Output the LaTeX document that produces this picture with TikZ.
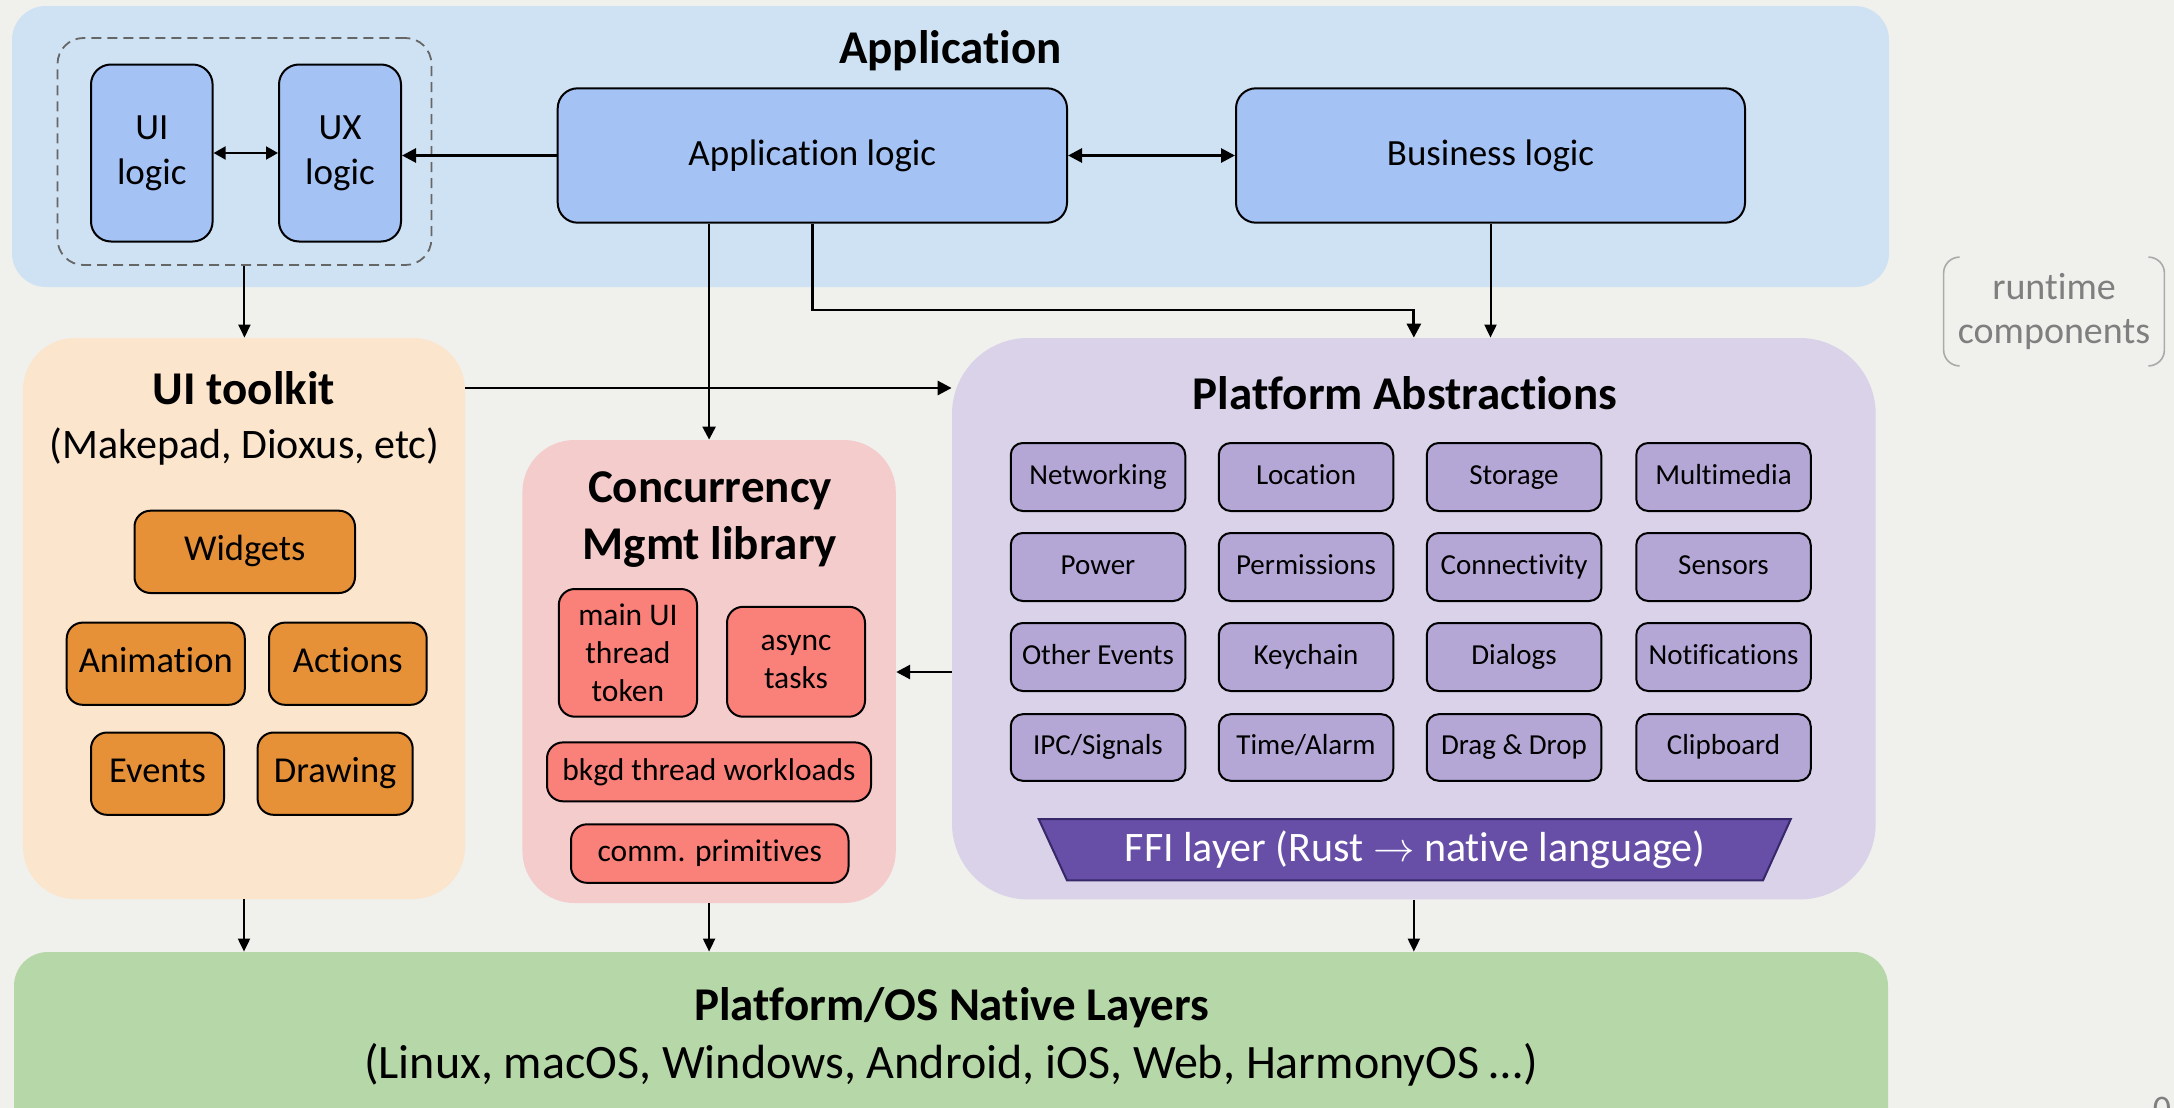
\documentclass[tikz,border=0pt]{standalone}
\usepackage{fontspec}
\setmainfont{Carlito}[Ligatures=NoCommon]
\usetikzlibrary{arrows.meta,fit}
\definecolor{bgc}{RGB}{240,240,237}
\definecolor{appbg}{RGB}{207,226,243}
\definecolor{appbox}{RGB}{164,194,244}
\definecolor{uibg}{RGB}{252,229,205}
\definecolor{orangebox}{RGB}{230,145,56}
\definecolor{concbg}{RGB}{244,204,204}
\definecolor{redbox}{RGB}{250,128,122}
\definecolor{platbg}{RGB}{217,210,233}
\definecolor{gridbox}{RGB}{180,167,214}
\definecolor{ffic}{RGB}{103,78,167}
\definecolor{ffiedge}{RGB}{55,40,105}
\definecolor{greenbg}{RGB}{182,215,168}
\definecolor{dashc}{RGB}{102,102,102}
\definecolor{rtline}{RGB}{170,170,170}
\definecolor{rttext}{RGB}{127,127,127}
\newcommand{\fTitle}{\fontsize{23.5}{28}\selectfont\bfseries}
\newcommand{\fBoxA}{\fontsize{18.5}{22.5}\selectfont}
\newcommand{\fWid}{\fontsize{18.25}{22}\selectfont}
\newcommand{\fGrid}{\fontsize{14.5}{17.5}\selectfont}
\newcommand{\fConc}{\fontsize{15.75}{19}\selectfont}
\newcommand{\fSubA}{\fontsize{21}{25}\selectfont}
\newcommand{\fSubB}{\fontsize{24}{28}\selectfont}
\newcommand{\fRt}{\fontsize{19}{22}\selectfont}
\newcommand{\fFfi}{\fontsize{21}{25}\selectfont}
\begin{document}
\begin{tikzpicture}[x=0.5pt,y=-0.5pt,
  panel/.style={inner sep=0pt, draw=none},
  bluebox/.style={draw=black, line width=1pt, fill=appbox, rounded corners=10pt, inner sep=0pt, align=center, font=\fBoxA},
  orbox/.style={draw=black, line width=1pt, fill=orangebox, rounded corners=8pt, inner sep=0pt, align=center, font=\fWid, text height=13.5pt, text depth=4.5pt},
  rbox/.style={draw=black, line width=1pt, fill=redbox, rounded corners=8pt, inner sep=0pt, align=center, font=\fConc},
  gbox/.style={draw=black, line width=1pt, fill=gridbox, rounded corners=6pt, inner sep=0pt, minimum width=87.25pt, minimum height=34pt, align=center, font=\fGrid, text height=10.5pt, text depth=3.5pt},
  lbl/.style={inner sep=0pt, anchor=base},
  thickarrow/.style={line width=1.4pt, -{Triangle[length=7pt,width=7pt]}},
  medarrow/.style={line width=1.2pt, -{Triangle[length=6.5pt,width=6.5pt]}},
  thinarrow/.style={line width=1pt, -{Triangle[length=6.5pt,width=6pt]}},
  dblthick/.style={line width=1.4pt, {Triangle[length=7pt,width=7pt]}-{Triangle[length=7pt,width=7pt]}},
  dblthin/.style={line width=1pt, {Triangle[length=6pt,width=6.5pt]}-{Triangle[length=6pt,width=6.5pt]}}
]
\useasboundingbox (0,0) rectangle (2174,1108);
\clip (0,0) rectangle (2174,1108);
\fill[bgc] (0,0) rectangle (2174,1108);

% ---------- Application ----------
\node[panel, fill=appbg, rounded corners=17pt, fit={(12,6) (1889,287)}] (app) {};
\node[lbl, font=\fTitle] (apptitle) at (950.5,63) {Application};
\node[panel, draw=dashc, dash pattern=on 5pt off 3pt, line width=0.9pt, rounded corners=13pt, fit={(57.5,38) (431.4,265)}] (uxgroup) {};
\node[bluebox, minimum width=60.8pt, minimum height=88.5pt] (uilogic) at (151.8,153) {UI\\logic};
\node[bluebox, minimum width=61pt, minimum height=88.5pt] (uxlogic) at (340,153) {UX\\logic};
\node[bluebox, minimum width=254.65pt, minimum height=67.2pt] (applogic) at (812.35,155.5) {Application logic};
\node[bluebox, minimum width=254.5pt, minimum height=67.2pt] (business) at (1490.5,155.5) {Business logic};

% ---------- UI toolkit ----------
\node[panel, fill=uibg, rounded corners=26pt, fit={(23,338) (465,899)}] (uitk) {};
\node[lbl, font=\fTitle] (uitktitle) at (244,404) {UI toolkit};
\node[lbl, font=\fSubA] (uitksub) at (244.5,458.5) {(Makepad, Dioxus, etc)};
\node[orbox, minimum width=110.25pt, minimum height=41.15pt] (widgets) at (244.75,551.85) {Widgets};
\node[orbox, minimum width=89.05pt, minimum height=41.1pt] (animation) at (155.75,663.7) {Animation};
\node[orbox, minimum width=78.85pt, minimum height=41.1pt] (actions) at (347.85,663.7) {Actions};
\node[orbox, minimum width=66.5pt, minimum height=41.15pt] (events) at (157.5,773.65) {Events};
\node[orbox, minimum width=77.55pt, minimum height=41.15pt] (drawing) at (335.15,773.65) {Drawing};

% ---------- Concurrency ----------
\node[panel, fill=concbg, rounded corners=26pt, fit={(522.4,440) (895.8,903)}] (conc) {};
\node[lbl, font=\fTitle] (conct1) at (710,502) {Concurrency};
\node[lbl, font=\fTitle] (conct2) at (710,559) {Mgmt library};
\node[rbox, minimum width=69.1pt, minimum height=63.85pt] (mainui) at (627.9,652.85) {main UI\\thread\\token};
\node[rbox, minimum width=69pt, minimum height=54.95pt] (async) at (796,661.75) {async\\tasks};
\node[rbox, minimum width=162pt, minimum height=29.45pt] (bkgd) at (709,771.85) {bkgd thread workloads};
\node[rbox, minimum width=138.75pt, minimum height=29.25pt] (comm) at (709.75,853.55) {comm. primitives};

% ---------- Platform Abstractions ----------
\node[panel, fill=platbg, rounded corners=38pt, fit={(952,338) (1875.7,899.4)}] (plat) {};
\node[lbl, font=\fTitle] (plattitle) at (1405,409) {Platform Abstractions};
\node[gbox] (g11) at (1098,477) {Networking};
\node[gbox] (g12) at (1306,477) {Location};
\node[gbox] (g13) at (1514,477) {Storage};
\node[gbox] (g14) at (1723.5,477) {Multimedia};
\node[gbox] (g21) at (1098,567) {Power};
\node[gbox] (g22) at (1306,567) {Permissions};
\node[gbox] (g23) at (1514,567) {Connectivity};
\node[gbox] (g24) at (1723.5,567) {Sensors};
\node[gbox] (g31) at (1098,657) {Other Events};
\node[gbox] (g32) at (1306,657) {Keychain};
\node[gbox] (g33) at (1514,657) {Dialogs};
\node[gbox] (g34) at (1723.5,657) {Notifications};
\node[gbox, minimum height=33.3pt] (g41) at (1098,747.5) {IPC/Signals};
\node[gbox, minimum height=33.3pt] (g42) at (1306,747.5) {Time/Alarm};
\node[gbox, minimum height=33.3pt] (g43) at (1514,747.5) {Drag \& Drop};
\node[gbox, minimum height=33.3pt] (g44) at (1723.5,747.5) {Clipboard};
\draw[fill=ffic, draw=ffiedge, line width=1pt] (1038.7,819) -- (1790.8,819) -- (1763,880.4) -- (1067,880.4) -- cycle;
\node[font=\fFfi, text=white, inner sep=0pt] (ffi) at (1415,849.7) {FFI layer (Rust $\rightarrow$ native language)};

% ---------- Native layers ----------
\node[panel, fill=greenbg, rounded corners=17pt, fit={(14,952) (1888,1180)}] (green) {};
\node[lbl, font=\fTitle] (greentitle) at (951.7,1020) {Platform/OS Native Layers};
\node[lbl, font=\fSubB] (greensub) at (951,1078) {(Linux, macOS, Windows, Android, iOS, Web, HarmonyOS …)};

% ---------- runtime components ----------
\node[inner sep=0pt, minimum width=110pt, minimum height=54pt, align=center, text=rttext, font=\fRt] (rc) at (2054,311.5) {runtime\\components};
\draw[rtline, line width=0.8pt] ([xshift=8pt]rc.north west) to[out=180,in=90] ([yshift=-8pt]rc.north west) -- ([yshift=8pt]rc.south west) to[out=-90,in=180] ([xshift=8pt]rc.south west);
\draw[rtline, line width=0.8pt] ([xshift=-8pt]rc.north east) to[out=0,in=90] ([yshift=-8pt]rc.north east) -- ([yshift=8pt]rc.south east) to[out=-90,in=0] ([xshift=-8pt]rc.south east);
\node[anchor=north, inner sep=0pt, text=rttext, font=\fontsize{18}{20}\selectfont] (pagenum) at (2162,1097) {0};

% ---------- connectors ----------
\coordinate (yA) at (0,310);
\coordinate (yB) at (0,388);
\coordinate (yC) at (0,672);
\draw[dblthin] (uilogic.east) -- (uxlogic.west);
\draw[thickarrow] (applogic.west) -- (applogic.west -| uxlogic.east);
\draw[dblthick] (applogic.east) -- (business.west);
\draw[thinarrow] (uxgroup.south) -- (uxgroup.south |- uitk.north);
\draw[medarrow] (applogic.south -| conc.north) -- (conc.north);
\draw[thickarrow] (applogic.south) -- (applogic.south |- yA) -| (plat.north);
\draw[thinarrow] (business.south) -- (business.south |- plat.north);
\draw[thickarrow] (uitk.east |- yB) -- (plat.west |- yB);
\draw[thickarrow] (plat.west |- yC) -- (conc.east |- yC);
\draw[thinarrow] (uitk.south) -- (uitk.south |- green.north);
\draw[thinarrow] (conc.south) -- (conc.south |- green.north);
\draw[thinarrow] (plat.south) -- (plat.south |- green.north);
\end{tikzpicture}
\end{document}
